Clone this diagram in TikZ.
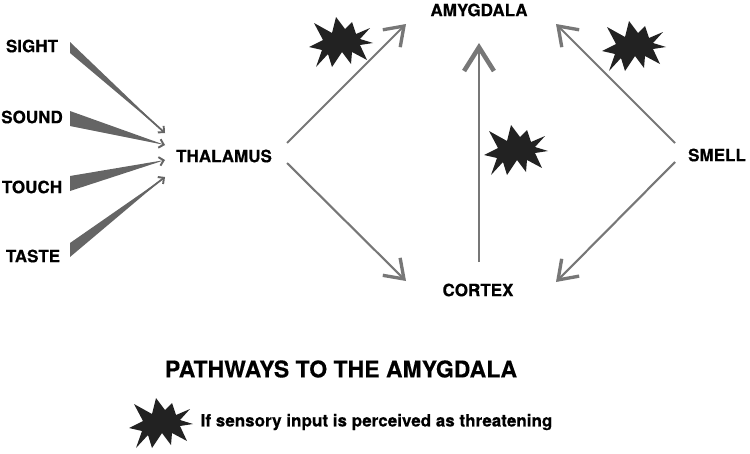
\documentclass[tikz,border=0pt]{standalone}
\usepackage{fontspec}
\setmainfont{TeX Gyre Heros}[BoldFeatures={FakeBold=0.35}]
\usetikzlibrary{arrows.meta}
\definecolor{arrgray}{HTML}{777777}
\definecolor{burstblack}{HTML}{222222}

\begin{document}
\begin{tikzpicture}[
  x=0.02cm, y=-0.02cm,
  label/.style={inner sep=0pt, font=\fontsize{9.7}{12}\bfseries},
  arr/.style={draw=arrgray, line width=1.2pt, -{Straight Barb[length=10pt, width=14pt, line width=1.9pt]}},
  bigarr/.style={draw=arrgray, line width=1.5pt, -{Straight Barb[length=13.5pt, width=17pt, line width=2.6pt]}},
  wedge/.style={fill=arrgray!85!black},
  wedgehead/.style={draw=arrgray!85!black, line width=1pt, -{Straight Barb[length=2.5pt, width=5pt, line width=1.1pt]}},
  burst/.pic={
    \fill[burstblack] (-4,-25) -- (5,-13) -- (12,-20) -- (16,-8) -- (30,-14) -- (20,-3) -- (33,1)
      -- (20,3) -- (27,18) -- (12,10) -- (11,22) -- (2,10) -- (-8,25) -- (-12,12) -- (-24,25)
      -- (-18,8) -- (-31,5) -- (-17,-2) -- (-26,-19) -- (-8,-9) -- cycle;
  }
]
\useasboundingbox (0,0) rectangle (750,453);
\node[label] (sight) at (32,46) {SIGHT};
\node[label] (sound) at (32,117) {SOUND};
\node[label] (touch) at (32,187) {TOUCH};
\node[label] (taste) at (33,256) {TASTE};
\node[label] (thalamus) at (224,156) {THALAMUS};
\node[label] (amygdala) at (479,10) {AMYGDALA};
\node[label] (cortex) at (478,290) {CORTEX};
\node[label] (smell) at (717,155) {SMELL};
\node[inner sep=0pt, font=\fontsize{13.1}{16}\bfseries] (title) at (341,369) {PATHWAYS TO THE AMYGDALA};
\node[inner sep=0pt, font=\fontsize{9.7}{12}\bfseries] (legend) at (376.5,422) {If sensory input is perceived as threatening};

% wedges into the thalamus
\coordinate (tipsight) at (165,133);
\coordinate (tipsound) at (165,145);
\coordinate (tiptouch) at (165,160);
\coordinate (tiptaste) at (165,177);
\foreach \a/\t/\u/\tip in {sight/42/53/tipsight, sound/111/126/tipsound, touch/176/191/tiptouch, taste/243/257/tiptaste} {
  \fill[wedge] (70,\t) -- (\tip) -- (70,\u) -- cycle;
  \coordinate (from\a) at (70,{(\t+\u)/2});
  \draw[wedgehead, shorten <=55pt] (from\a) -- (\tip);
}

% free ends beside the labels
\coordinate (thalup) at (287,143);
\coordinate (thaldown) at (287,163);
\coordinate (smellup) at (675,143);
\coordinate (smelldown) at (675,162);
\coordinate (amyleft) at (406,24);
\coordinate (amyright) at (556,24);
\coordinate (amylow) at (479,43);
\coordinate (cortleft) at (406,281);
\coordinate (cortright) at (556,282);
\coordinate (corttop) at (479,262);
\foreach \a/\b in {thalup/amyleft, thaldown/cortleft, smellup/amyright, smelldown/cortright}
  \draw[arr] (\a) -- (\b);
\draw[bigarr] (corttop) -- (amylow);

\pic at (340,42) {burst};
\pic at (515,150) {burst};
\pic at (633,46) {burst};
\pic at (160,423) {burst};
\end{tikzpicture}
\end{document}
